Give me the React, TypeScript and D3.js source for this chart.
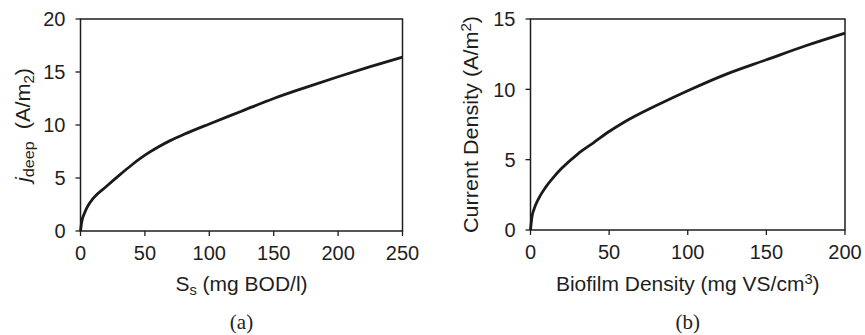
import * as d3 from 'd3';
import React from 'react';

// panel (a): j_deep vs S_s
const ssValues = [0, 1, 3, 5, 10, 20, 30, 40, 50, 60, 70, 80, 100, 125, 150, 175, 200, 225, 250];
const jDeepValues = [0, 0.9, 1.65, 2.2, 3.1, 4.2, 5.25, 6.25, 7.15, 7.9, 8.55, 9.1, 10.1, 11.3, 12.5, 13.55, 14.55, 15.5, 16.4];
const ssTicks = [0, 50, 100, 150, 200, 250];
const jDeepTicks = [0, 5, 10, 15, 20];

// panel (b): current density vs biofilm density
const biofilmValues = [0, 1, 2, 5, 10, 15, 20, 30, 40, 50, 60, 70, 80, 100, 125, 150, 175, 200];
const currentValues = [0, 1.0, 1.4, 2.2, 3.1, 3.8, 4.4, 5.4, 6.2, 7.0, 7.7, 8.3, 8.85, 9.9, 11.1, 12.1, 13.1, 14.0];
const biofilmTicks = [0, 50, 100, 150, 200];
const currentTicks = [0, 5, 10, 15];

const INK = '#1e1e1e';
const SANS = '"Liberation Sans", Arial, sans-serif';

function Label({
  x,
  y,
  rotate = 0,
  anchor = 'middle',
  size = 20,
  stretch = 1,
  dy,
  children,
}: {
  x: number;
  y: number;
  rotate?: number;
  anchor?: string;
  size?: number;
  stretch?: number;
  dy?: string;
  children: React.ReactNode;
}) {
  return (
    <g transform={`translate(${x},${y}) rotate(${rotate}) scale(${stretch},1)`}>
      <text textAnchor={anchor} fontSize={size} dy={dy} fontFamily={SANS} fill={INK}>
        {children}
      </text>
    </g>
  );
}

type PanelProps = {
  left: number;
  right: number;
  top: number;
  bottom: number;
  xs: number[];
  ys: number[];
  xDomain: [number, number];
  yDomain: [number, number];
  xTicks: number[];
  yTicks: number[];
  yLabelX: number;
  yLabel: React.ReactNode;
  xLabel: React.ReactNode;
  caption: string;
};

function Panel(p: PanelProps) {
  const x = d3.scaleLinear().domain(p.xDomain).range([p.left, p.right]);
  const y = d3.scaleLinear().domain(p.yDomain).range([p.bottom, p.top]);
  const line = d3
    .line<number>()
    .x((d, i) => x(p.xs[i]))
    .y((d) => y(d))
    .curve(d3.curveMonotoneX);
  const cx = (p.left + p.right) / 2;
  const cy = (p.top + p.bottom) / 2;

  return (
    <g>
      <rect
        x={p.left}
        y={p.top}
        width={p.right - p.left}
        height={p.bottom - p.top}
        fill="none"
        stroke={INK}
        strokeWidth={1.5}
      />
      {p.yTicks.map((t) => (
        <g key={'y' + t}>
          <line x1={p.left - 5} x2={p.left} y1={y(t)} y2={y(t)} stroke={INK} strokeWidth={1.3} />
          <Label x={p.left - 15} y={y(t)} anchor="end" dy="0.36em">
            {t}
          </Label>
        </g>
      ))}
      {p.xTicks.map((t) => (
        <g key={'x' + t}>
          <line x1={x(t)} x2={x(t)} y1={p.bottom} y2={p.bottom + 5} stroke={INK} strokeWidth={1.3} />
          <Label x={x(t)} y={p.bottom + 29}>
            {t}
          </Label>
        </g>
      ))}
      <path d={line(p.ys) ?? ''} fill="none" stroke="#1a1a1a" strokeWidth={2.8} />
      <Label x={p.yLabelX} y={cy} rotate={-90} dy="0.36em" size={20} stretch={1.08}>
        {p.yLabel}
      </Label>
      <Label x={cx} y={291} size={20} stretch={1.05}>
        {p.xLabel}
      </Label>
      <text
        x={cx}
        y={329}
        textAnchor="middle"
        fontSize={21}
        fill={INK}
        fontFamily='"Liberation Serif", "Times New Roman", serif'
      >
        {p.caption}
      </text>
    </g>
  );
}

export default function App() {
  return (
    <svg
      width={865}
      height={335}
      style={{ position: 'absolute', left: 0, top: 0, background: '#fff' }}
    >
      <Panel
        left={80.5}
        right={402.5}
        top={19}
        bottom={231}
        xs={ssValues}
        ys={jDeepValues}
        xDomain={[0, 250]}
        yDomain={[0, 20]}
        xTicks={ssTicks}
        yTicks={jDeepTicks}
        yLabelX={23}
        yLabel={
          <>
            <tspan fontStyle="italic">j</tspan>
            <tspan fontSize={15} dy="4">deep</tspan>
            <tspan dy="-4">{'\u00a0\u00a0(A/m'}</tspan>
            <tspan fontSize={14} dy="4">2</tspan>
            <tspan dy="-4">)</tspan>
          </>
        }
        xLabel={
          <>
            <tspan>S</tspan>
            <tspan fontSize={14} dy="4">s</tspan>
            <tspan dy="-4">{' (mg BOD/l)'}</tspan>
          </>
        }
        caption="(a)"
      />
      <Panel
        left={530.5}
        right={845}
        top={19}
        bottom={230}
        xs={biofilmValues}
        ys={currentValues}
        xDomain={[0, 200]}
        yDomain={[0, 15]}
        xTicks={biofilmTicks}
        yTicks={currentTicks}
        yLabelX={471}
        yLabel={
          <>
            <tspan>Current Density (A/m</tspan>
            <tspan fontSize={14} dy="-7">2</tspan>
            <tspan dy="7">)</tspan>
          </>
        }
        xLabel={
          <>
            <tspan>Biofilm Density (mg VS/cm</tspan>
            <tspan fontSize={14} dy="-7">3</tspan>
            <tspan dy="7">)</tspan>
          </>
        }
        caption="(b)"
      />
    </svg>
  );
}
